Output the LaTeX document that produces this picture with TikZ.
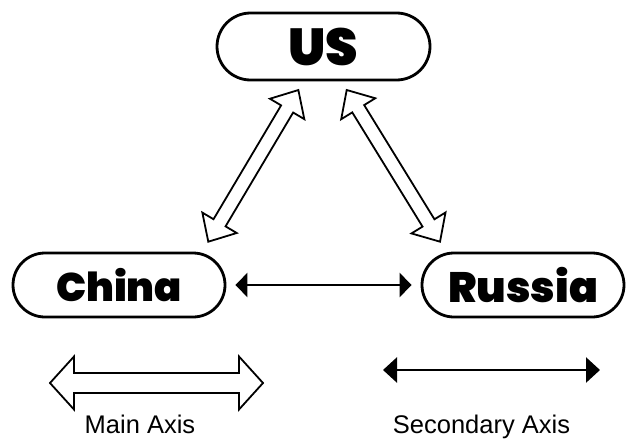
\documentclass[tikz,border=0pt]{standalone}
\usepackage{fontspec}
\setmainfont{Liberation Sans}
\newfontfamily\heavyfont{Poppins Black}
\usetikzlibrary{arrows.meta,shapes.misc}

\tikzset{
  capsule/.style={draw, shape=rounded rectangle, line width=2.8pt, inner sep=0pt},
  hollow/.style={draw, line width=1.8pt, fill=white, line join=miter},
  linkarrow/.style={line width=2.4pt,
    {Triangle[length=12pt,width=24pt]}-{Triangle[length=12pt,width=24pt]}},
  secarrow/.style={line width=2.6pt,
    {Triangle[length=14pt,width=25pt]}-{Triangle[length=14pt,width=25pt]}},
  legendtext/.style={font=\fontsize{25.5}{28}\selectfont, anchor=base, inner sep=0pt},
}

% hollow double-headed arrow:
% #1 start coordinate, #2 angle, #3 length, #4 shaft half width,
% #5 head half width, #6 head length (all in pt)
\newcommand\hollowarrow[6]{%
  \begin{scope}[shift={(#1)}, rotate=#2, x=1pt, y=1pt]
    \draw[hollow] (0,0) -- (#6,#5) -- (#6,#4) -- (#3-#6,#4) -- (#3-#6,#5)
      -- (#3,0) -- (#3-#6,-#5) -- (#3-#6,-#4) -- (#6,-#4) -- (#6,-#5) -- cycle;
  \end{scope}}

\begin{document}
\begin{tikzpicture}[x=1pt, y=-1pt]
  \useasboundingbox (0,0) rectangle (626,439);

  % the three powers
  \node[capsule, minimum width=213pt, minimum height=67pt,
        font=\heavyfont\fontsize{52}{56}\selectfont] (us) at (323.5,46.5) {US};
  \node[capsule, minimum width=212pt, minimum height=64pt,
        font=\heavyfont\fontsize{40}{44}\selectfont] (china) at (119,285) {China};
  \node[capsule, minimum width=202pt, minimum height=64pt,
        font=\heavyfont\fontsize{42.5}{46}\selectfont] (russia) at (523,285) {Russia};

  % main axes (hollow arrows)
  \coordinate (chinaUS) at (208.3,241.7);
  \coordinate (usRussia) at (346.7,90);
  \hollowarrow{chinaUS}{59.3}{176.4}{7}{20}{22}
  \hollowarrow{usRussia}{-58.4}{178.1}{7}{20}{22}

  % secondary axis
  \draw[linkarrow, shorten <=9pt, shorten >=9pt] (china.east) -- (russia.west);

  % legend
  \coordinate (mainL) at (50,383);
  \hollowarrow{mainL}{0}{213}{10}{26.5}{24}
  \coordinate (secL) at (383,370);
  \coordinate (secR) at (600,370);
  \draw[secarrow] (secL) -- (secR);
  \node[legendtext] (mainlbl) at (140,433) {Main Axis};
  \node[legendtext] (seclbl) at (481.5,433) {Secondary Axis};
\end{tikzpicture}
\end{document}
